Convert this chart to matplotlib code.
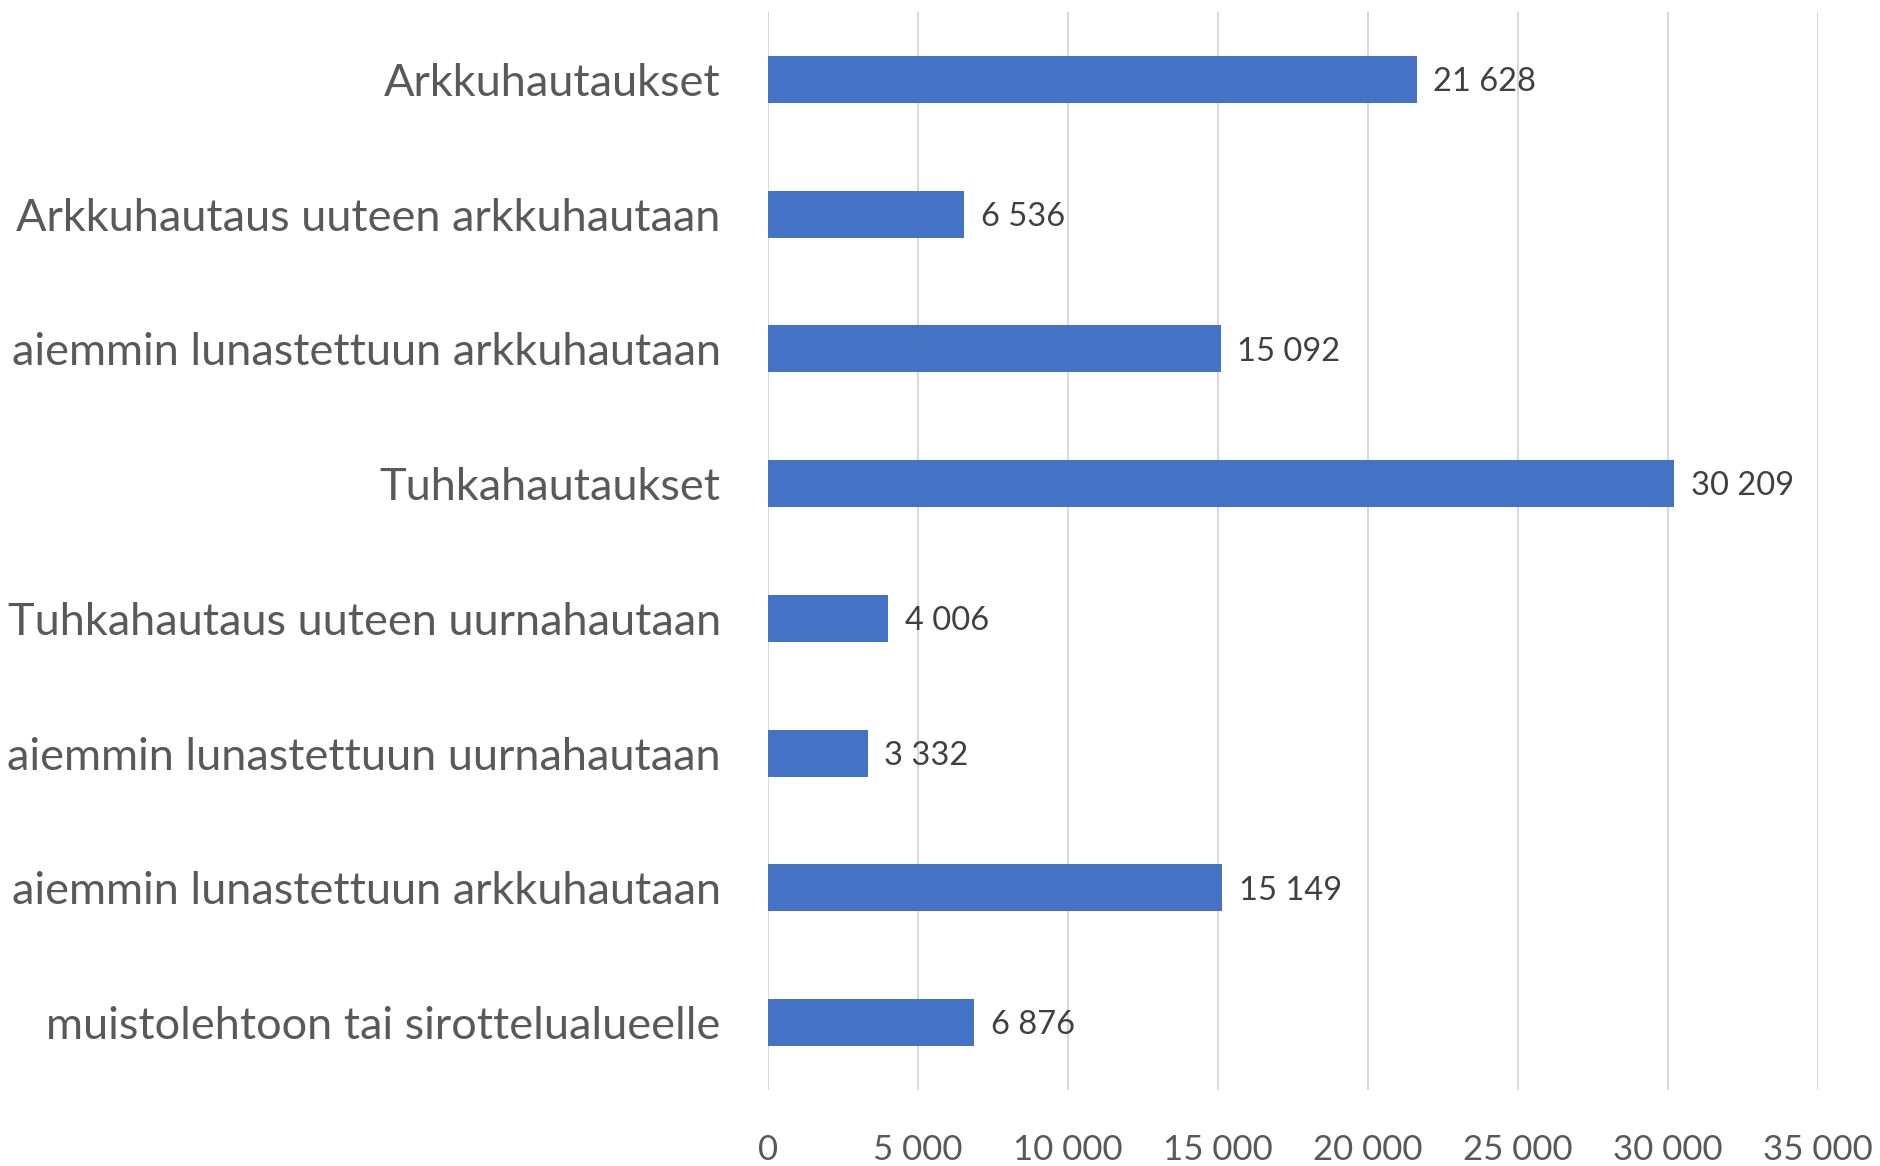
import matplotlib.pyplot as plt
from matplotlib import font_manager

categories = [
    "Arkkuhautaukset",
    "Arkkuhautaus uuteen arkkuhautaan",
    "aiemmin lunastettuun arkkuhautaan",
    "Tuhkahautaukset",
    "Tuhkahautaus uuteen uurnahautaan",
    "aiemmin lunastettuun uurnahautaan",
    "aiemmin lunastettuun arkkuhautaan",
    "muistolehtoon tai sirottelualueelle",
]
values = [21628, 6536, 15092, 30209, 4006, 3332, 15149, 6876]
xticks = [0, 5000, 10000, 15000, 20000, 25000, 30000, 35000]

available = {f.name for f in font_manager.fontManager.ttflist}
family = "DejaVu Sans"
for name in ["Lato", "Open Sans"]:
    if name in available:
        family = name
        break
plt.rcParams["font.family"] = family


def fmt(v):
    return f"{v:,}".replace(",", " ")


fig = plt.figure(figsize=(18.81, 11.66), dpi=100)
ax = fig.add_axes([0.4083, 0.0652, 0.5582, 0.9245])

pos = list(range(len(categories)))
ax.barh(pos, values, height=0.35, color="#4472C4", zorder=3)
for p, v in zip(pos, values):
    ax.text(v + 550, p + 0.02, fmt(v), va="center", ha="left",
            fontsize=23.5, color="#404040")

ax.set_ylim(len(categories) - 0.5, -0.5)
ax.set_yticks(pos)
ax.set_yticklabels(categories, fontsize=32.5, color="#595959")
ax.set_xlim(0, 35000)
ax.set_xticks(xticks)
ax.set_xticklabels([fmt(t) for t in xticks], fontsize=25, color="#595959")
ax.tick_params(axis="both", length=0)
ax.tick_params(axis="y", pad=34)
ax.tick_params(axis="x", pad=32)
ax.grid(axis="x", color="#D9D9D9", linewidth=1.5, zorder=0)
for s in ax.spines.values():
    s.set_visible(False)

fig.savefig("out.png", dpi=100)
